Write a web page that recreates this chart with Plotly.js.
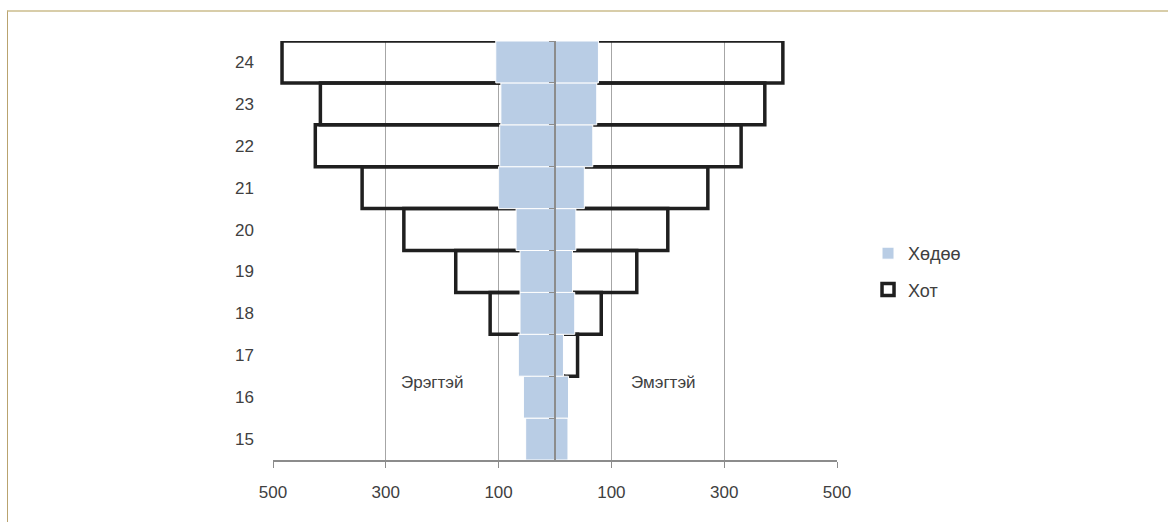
<!DOCTYPE html>
<html>
<head>
<meta charset="utf-8">
<script src="https://cdn.plot.ly/plotly-3.0.1.min.js"></script>
<style>
  html, body { margin: 0; padding: 0; background: #ffffff; }
  #wrap { position: relative; width: 1168px; height: 522px; overflow: hidden; }
  #frame { position: absolute; left: 7px; top: 10px; width: 1200px; height: 600px;
           border-top: 2px solid #D8CDA9; border-left: 1px solid #B9A36F; pointer-events: none; }
  #chart { position: absolute; left: 0; top: 0; width: 1168px; height: 522px; }
</style>
</head>
<body>
<div id="wrap">
  <div id="frame"></div>
  <div id="chart"></div>
</div>
<script>
// Age groups
const ages = [15, 16, 17, 18, 19, 20, 21, 22, 23, 24];

// Хөдөө (rural)
const ruralMale   = [52, 56, 65, 62, 62, 69, 100, 98, 96, 105];
const ruralFemale = [23, 24, 15, 35, 31, 37, 52, 67, 74, 77];

// Хот (urban)
const urbanMale   = [20, 30, 40, 115, 176, 268, 342, 425, 416, 484];
const urbanFemale = [10, 15, 40, 82, 145, 200, 271, 330, 372, 404];

// Axis ticks
const tickVals   = [-500, -300, -100, 100, 300, 500];
const tickLabels = ['500', '300', '100', '100', '300', '500'];

const labelMale = 'Эрэгтэй';
const labelFemale = 'Эмэгтэй';

const neg = a => a.map(v => -v);

const urbanTrace = {
  type: 'bar', orientation: 'h', name: 'Хот',
  x: neg(urbanMale).concat(urbanFemale),
  y: ages.concat(ages),
  width: 1,
  marker: { color: 'rgba(255,255,255,0)', line: { color: '#1f1f1f', width: 3.5 } },
  legendgroup: 'b', legendrank: 2,
  hoverinfo: 'skip'
};
const ruralTrace = {
  type: 'bar', orientation: 'h', name: 'Хөдөө',
  x: neg(ruralMale).concat(ruralFemale),
  y: ages.concat(ages),
  width: 1,
  marker: { color: '#B9CDE5', line: { color: '#ffffff', width: 1 } },
  legendgroup: 'a', legendrank: 1,
  hoverinfo: 'skip'
};
// empty helper trace so the centre axis (yaxis2) is drawn
const centreAxisTrace = {
  type: 'scatter', mode: 'lines', x: [], y: [], yaxis: 'y2',
  showlegend: false, hoverinfo: 'skip'
};

const FONT = 'Liberation Sans, Arial, sans-serif';

const layout = {
  width: 1168, height: 522,
  margin: { l: 273, r: 331, t: 41, b: 62, pad: 0 },
  paper_bgcolor: 'rgba(0,0,0,0)',
  plot_bgcolor: 'rgba(0,0,0,0)',
  barmode: 'overlay',
  bargap: 0,
  font: { family: FONT, size: 17, color: '#404040' },
  showlegend: true,
  legend: {
    x: 1.055, xanchor: 'left', y: 0.537, yanchor: 'top',
    traceorder: 'grouped', tracegroupgap: 10,
    font: { family: FONT, size: 18, color: '#404040' },
    bgcolor: 'rgba(0,0,0,0)'
  },
  xaxis: {
    range: [-500, 500],
    tickvals: tickVals, ticktext: tickLabels,
    showgrid: true, gridcolor: '#A6A6A6', gridwidth: 1,
    zeroline: false,
    showline: true, linecolor: '#8C8C8C', linewidth: 2,
    ticks: 'outside', ticklen: 6, tickcolor: '#8C8C8C', tickwidth: 1,
    ticklabelstandoff: 10,
    tickfont: { family: FONT, size: 17, color: '#404040' },
    fixedrange: true
  },
  yaxis: {
    range: [14.5, 24.5],
    tickvals: ages, ticktext: ages.map(String),
    showgrid: false, zeroline: false, showline: false,
    ticks: '', ticklabelstandoff: 18,
    tickfont: { family: FONT, size: 17, color: '#404040' },
    fixedrange: true
  },
  yaxis2: {
    overlaying: 'y', anchor: 'free', position: 0.5, side: 'left',
    range: [14.5, 24.5],
    tickvals: ages.map(a => a - 0.5).concat([24.5]),
    showticklabels: false,
    ticks: 'outside', ticklen: 5, tickcolor: '#8C8C8C', tickwidth: 1,
    showline: true, linecolor: '#8C8C8C', linewidth: 2,
    showgrid: false, zeroline: false,
    layer: 'above traces', fixedrange: true
  },
  annotations: [
    { x: -217, y: 16.35, xref: 'x', yref: 'y', text: labelMale, showarrow: false,
      font: { family: FONT, size: 17, color: '#404040' } },
    { x: 192, y: 16.35, xref: 'x', yref: 'y', text: labelFemale, showarrow: false,
      font: { family: FONT, size: 17, color: '#404040' } }
  ]
};

Plotly.newPlot('chart', [urbanTrace, ruralTrace, centreAxisTrace], layout, { displayModeBar: false, staticPlot: true });
</script>
</body>
</html>
